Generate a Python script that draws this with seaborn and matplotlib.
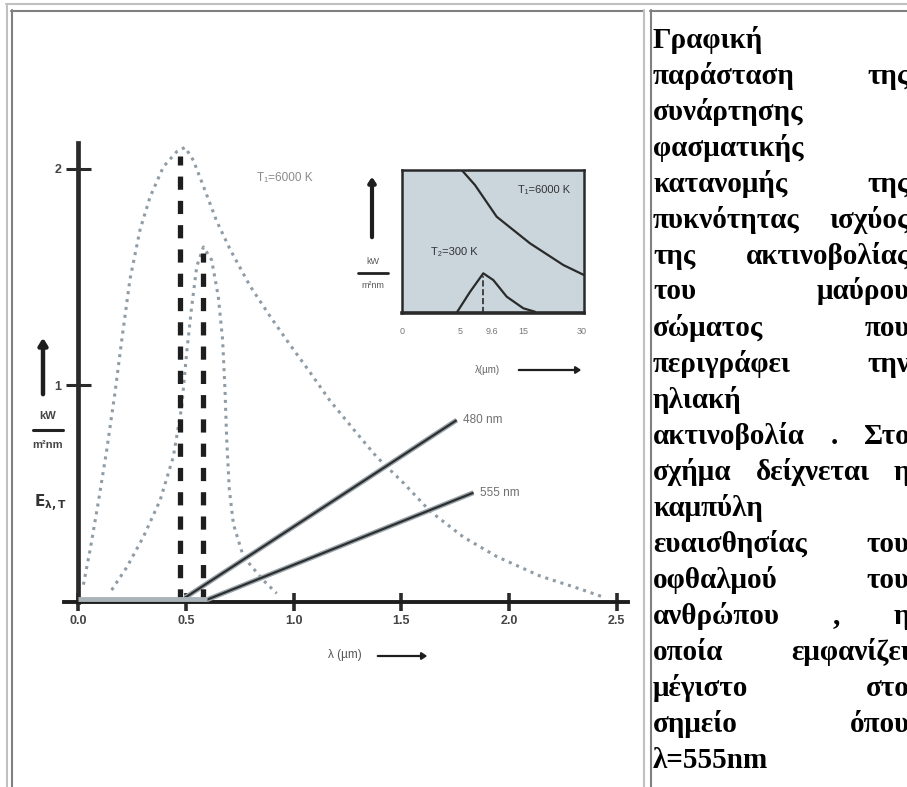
import matplotlib
matplotlib.use("Agg")
import numpy as np
import seaborn as sns
import matplotlib.pyplot as plt
from matplotlib.lines import Line2D
from matplotlib.patches import FancyArrowPatch

W, H = 907, 787

# courbe du corps noir T=6000 K
sun_x = [0.025, 0.056, 0.094, 0.133, 0.172, 0.203, 0.241, 0.288, 0.334, 0.396, 0.458, 0.497,
         0.535, 0.582, 0.643, 0.705, 0.798, 0.891, 0.968, 1.077, 1.169, 1.293, 1.386, 1.510,
         1.633, 1.788, 1.943, 2.144, 2.330, 2.445]
sun_y = [0.08, 0.24, 0.46, 0.70, 0.97, 1.21, 1.49, 1.72, 1.87, 2.01, 2.08, 2.10,
         2.04, 1.92, 1.76, 1.63, 1.46, 1.32, 1.21, 1.06, 0.93, 0.78, 0.67, 0.55,
         0.42, 0.30, 0.21, 0.12, 0.06, 0.02]

# courbe de sensibilité de l'oeil
eye_x = [0.156, 0.226, 0.303, 0.381, 0.442, 0.481, 0.504, 0.527, 0.551, 0.582, 0.620,
         0.651, 0.671, 0.682, 0.690, 0.702, 0.721, 0.767, 0.860, 0.922]
eye_y = [0.055, 0.16, 0.30, 0.47, 0.67, 0.90, 1.15, 1.36, 1.55, 1.64, 1.58,
         1.41, 1.21, 0.98, 0.75, 0.52, 0.36, 0.21, 0.10, 0.04]

# maxima (traits tiretés)
peak_x = [0.473, 0.582]
peak_top = [2.06, 1.61]

# lignes de rappel + étiquettes
lead_x = [[0.497, 1.757], [0.597, 1.835]]
lead_y = [[0.02, 0.84], [0.01, 0.505]]
lead_labels = ["480 nm", "555 nm"]

band_x = [0.0, 0.6]

x_ticks = [0.0, 0.5, 1.0, 1.5, 2.0, 2.5]
x_labels = ["0.0", "0.5", "1.0", "1.5", "2.0", "2.5"]
y_ticks = [1, 2]
y_labels = ["1", "2"]

# encart
hot_x = [6.58, 8.04, 10.42, 14.08, 17.73, 20.0]
hot_y = [1.0, 0.895, 0.674, 0.488, 0.337, 0.267]
cold_x = [6.03, 7.49, 8.95, 10.05, 11.52, 13.34, 14.62]
cold_y = [0.004, 0.149, 0.279, 0.232, 0.116, 0.035, 0.011]
cold_peak = 8.95
ins_ticks = [0.0, 6.4, 9.87, 13.34, 19.75]
ins_labels = ["0", "5", "9.6", "15", "30"]

# texte de la colonne de droite
text_lines = [
    ["Γραφική"],
    ["παράσταση", "της"],
    ["συνάρτησης"],
    ["φασματικής"],
    ["κατανομής", "της"],
    ["πυκνότητας", "ισχύος"],
    ["της", "ακτινοβολίας"],
    ["του", "μαύρου"],
    ["σώματος", "που"],
    ["περιγράφει", "την"],
    ["ηλιακή"],
    ["ακτινοβολία", ".", "Στο"],
    ["σχήμα", "δείχνεται", "η"],
    ["καμπύλη"],
    ["ευαισθησίας", "του"],
    ["οφθαλμού", "του"],
    ["ανθρώπου", ",", "η"],
    ["οποία", "εμφανίζει"],
    ["μέγιστο", "στο"],
    ["σημείο", "όπου"],
    ["λ=555nm"],
]

sns.set_theme(style="white")
plt.rcParams['font.family'] = ['Liberation Sans', 'DejaVu Sans']

fig = plt.figure(figsize=(W / 100, H / 100), dpi=100)
fig.patch.set_facecolor("white")


def fx(x):
    return x / W


def fy(y):
    return 1 - y / H


def fig_line(xs, ys, color, lw):
    fig.add_artist(Line2D([fx(v) for v in xs], [fy(v) for v in ys],
                          transform=fig.transFigure, color=color, lw=lw))


def fig_arrow(p0, p1, lw, head="-|>,head_length=3,head_width=2"):
    fig.add_artist(FancyArrowPatch((fx(p0[0]), fy(p0[1])), (fx(p1[0]), fy(p1[1])),
                                   transform=fig.transFigure, arrowstyle=head,
                                   lw=lw, color="#1e1e1e"))


# bordures du tableau html
light, dark = "#c0c0c0", "#808080"
fig_line([6, 907], [4, 4], light, 1.5)
fig_line([7, 7], [4, 787], light, 1.5)
fig_line([11, 643], [10.5, 10.5], dark, 1.5)
fig_line([11.5, 11.5], [10, 787], dark, 1.5)
fig_line([643.5, 643.5], [10, 787], light, 1.5)
fig_line([650, 907], [10.5, 10.5], dark, 1.5)
fig_line([650.5, 650.5], [10, 787], dark, 1.5)

# ligne coupée du haut (on n'en voit que les jambages)
fig.text(fx(20), fy(-4.5), "Στο σχήμα φαίνεται η φασματική κατανομή (σχήμα 1) της ηλιακής ακτινοβολίας για την περιοχή",
         family="Liberation Serif", fontsize=15, va="baseline", ha="left", color="black")

# ---- graphique principal ----
ax = fig.add_axes([fx(64), fy(602), (628 - 64) / W, (602 - 143) / H])
ax.set_facecolor("none")
ax.set_xlim(-0.065, 2.552)
ax.set_ylim(0, 2.12)

dot = (0, (1, 1.6))
sns.lineplot(x=sun_x, y=sun_y, ax=ax, color="#8f9ca5", lw=2.2, linestyle=dot,
             sort=False, estimator=None)
sns.lineplot(x=eye_x, y=eye_y, ax=ax, color="#8f9ca5", lw=2.2, linestyle=dot,
             sort=False, estimator=None)
ax.vlines(peak_x, 0, peak_top, colors="#1e1e1e", lw=3.8, linestyles=[(0, (2.5, 2.1))], zorder=4)

for lx, ly, lab in zip(lead_x, lead_y, lead_labels):
    ax.plot(lx, ly, color="#9aa6ad", lw=3.6, solid_capstyle="butt", zorder=3)
    ax.plot(lx, ly, color="#2e2e2e", lw=1.6, solid_capstyle="butt", zorder=3)
    ax.text(lx[1] + 0.03, ly[1], lab, fontsize=8.5, color="#6f6f6f", va="center", ha="left")

ax.plot(band_x, [0.012, 0.012], color="#a9b3b8", lw=3.5, solid_capstyle="butt", zorder=5)

for s in ["top", "right"]:
    ax.spines[s].set_visible(False)
ax.spines["left"].set_position(("data", 0))
ax.spines["left"].set_linewidth(3.4)
ax.spines["left"].set_color("#2a2a2a")
ax.spines["bottom"].set_linewidth(2.8)
ax.spines["bottom"].set_color("#1e1e1e")

ax.set_xticks(x_ticks, labels=x_labels)
ax.set_yticks(y_ticks, labels=y_labels)
ax.tick_params(axis="y", direction="inout", length=18, width=2.2, color="#2a2a2a",
               labelsize=9, labelcolor="#444444", pad=3, left=True)
ax.tick_params(axis="x", direction="inout", length=13, width=2.6, color="#2a2a2a",
               labelsize=9, labelcolor="#444444", pad=3, bottom=True)
for t in ax.get_xticklabels() + ax.get_yticklabels():
    t.set_fontweight("bold")
ax.grid(False)

# libellés des axes
fig_arrow((43, 397), (43, 335), 3.2, "-|>,head_length=4,head_width=2.5")
fig.text(fx(48), fy(416), "kW", fontsize=8, fontweight="bold", color="#444444", ha="center", va="center")
fig_line([33, 63], [430, 430], "#222222", 2.2)
fig.text(fx(48), fy(445), "m²nm", fontsize=8, fontweight="bold", color="#444444", ha="center", va="center")
fig.text(fx(50), fy(503), r"$\mathbf{E}_{\mathbf{\lambda,T}}$", fontsize=11, color="#333333",
         ha="center", va="center")

fig.text(fx(345), fy(655), "λ (µm)", fontsize=8.5, color="#555555", ha="center", va="center")
fig_arrow((375, 656), (430, 656), 1.6)

fig.text(fx(285), fy(178), "T₁=6000 K", fontsize=8.5, color="#8a8a8a", ha="center", va="center")

# ---- encart ----
ins = fig.add_axes([fx(401.7), fy(313.3), 182.3 / W, 143.3 / H])
ins.set_facecolor("#cad6dc")
ins.set_xlim(0, 20)
ins.set_ylim(0, 1)
sns.lineplot(x=hot_x, y=hot_y, ax=ins, color="#2a2a2a", lw=1.6, sort=False, estimator=None)
sns.lineplot(x=cold_x, y=cold_y, ax=ins, color="#2a2a2a", lw=1.6, sort=False, estimator=None)
ins.vlines([cold_peak], 0, 0.26, colors="#2a2a2a", lw=1.2, linestyles="--")
for s in ins.spines.values():
    s.set_linewidth(1.8)
    s.set_color("#2a2a2a")
ins.spines["bottom"].set_linewidth(2.6)
ins.set_xticks(ins_ticks, labels=ins_labels)
ins.set_yticks([])
ins.tick_params(axis="x", length=0, pad=10, labelsize=6.5, labelcolor="#777777")
ins.grid(False)
ins.text(0.78, 0.86, "T₁=6000 K", transform=ins.transAxes, fontsize=8, color="#333333",
         ha="center", va="center")
ins.text(0.29, 0.43, "T₂=300 K", transform=ins.transAxes, fontsize=8, color="#333333",
         ha="center", va="center")

fig_arrow((372, 240), (372, 174), 3.0)
fig.text(fx(373), fy(262), "kW", fontsize=6.5, color="#555555", ha="center", va="center")
fig_line([358, 388], [273, 273], "#222222", 2.0)
fig.text(fx(373), fy(286), "m²nm", fontsize=6.5, color="#555555", ha="center", va="center")
fig.text(fx(488), fy(370), "λ(µm)", fontsize=7, color="#666666", ha="center", va="center")
fig_arrow((516, 370), (584, 370), 1.6)

# ---- colonne de texte justifiée ----
left_px, right_px = 653, 910
base0, step = 47.5, 36.0
fs = 21
renderer = fig.canvas.get_renderer()
for i, words in enumerate(text_lines):
    yb = fy(base0 + i * step)
    arts = [fig.text(0, yb, w, family="Liberation Serif", fontweight="bold", fontsize=fs,
                     va="baseline", ha="left", color="black") for w in words]
    widths = [a.get_window_extent(renderer).width for a in arts]
    if len(words) == 1 or i == len(text_lines) - 1:
        arts[0].set_x(fx(left_px))
        continue
    gap = (right_px - left_px - sum(widths)) / (len(words) - 1)
    pos = left_px
    for a, w in zip(arts, widths):
        a.set_x(fx(pos))
        pos += w + gap

fig.savefig("out.png", dpi=100, facecolor="white")
